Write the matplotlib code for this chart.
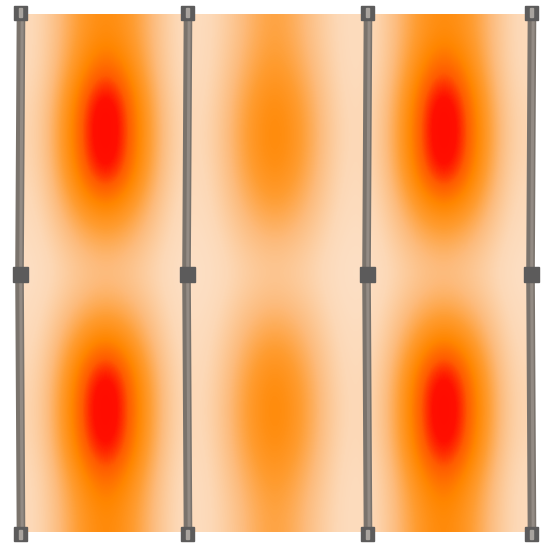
"""
Folding-screen heat map: three panels, each with two hot spots,
smoothed with bicubic interpolation and framed by grey posts.
"""

import matplotlib
matplotlib.use("Agg")
import matplotlib.pyplot as plt
from matplotlib.colors import LinearSegmentedColormap
from matplotlib.patches import Rectangle

# intensity grid, 15 rows (top -> bottom) x 15 columns (left -> right)
heat = [
    [0.12, 0.45, 0.62, 0.45, 0.12, 0.10, 0.30, 0.50, 0.30, 0.10, 0.12, 0.45, 0.62, 0.47, 0.12],
    [0.12, 0.50, 0.78, 0.50, 0.12, 0.10, 0.35, 0.55, 0.35, 0.10, 0.12, 0.50, 0.80, 0.52, 0.12],
    [0.14, 0.62, 1.00, 0.60, 0.14, 0.11, 0.42, 0.63, 0.42, 0.11, 0.14, 0.60, 1.00, 0.62, 0.14],
    [0.15, 0.67, 1.00, 0.64, 0.15, 0.12, 0.45, 0.66, 0.45, 0.12, 0.15, 0.64, 1.00, 0.67, 0.15],
    [0.14, 0.62, 0.97, 0.60, 0.14, 0.11, 0.42, 0.63, 0.42, 0.11, 0.14, 0.60, 0.97, 0.62, 0.14],
    [0.12, 0.48, 0.70, 0.46, 0.12, 0.10, 0.34, 0.52, 0.34, 0.10, 0.12, 0.46, 0.70, 0.48, 0.12],
    [0.10, 0.32, 0.46, 0.32, 0.10, 0.08, 0.25, 0.36, 0.25, 0.08, 0.10, 0.32, 0.46, 0.32, 0.10],
    [0.08, 0.22, 0.30, 0.22, 0.08, 0.07, 0.18, 0.26, 0.18, 0.07, 0.08, 0.22, 0.30, 0.22, 0.08],
    [0.10, 0.32, 0.46, 0.32, 0.10, 0.08, 0.25, 0.36, 0.25, 0.08, 0.10, 0.32, 0.46, 0.32, 0.10],
    [0.12, 0.48, 0.72, 0.46, 0.12, 0.10, 0.34, 0.52, 0.34, 0.10, 0.12, 0.46, 0.72, 0.48, 0.12],
    [0.14, 0.62, 0.98, 0.60, 0.14, 0.11, 0.42, 0.63, 0.42, 0.11, 0.14, 0.60, 0.98, 0.62, 0.14],
    [0.15, 0.67, 1.00, 0.64, 0.15, 0.12, 0.45, 0.66, 0.45, 0.12, 0.15, 0.64, 1.00, 0.67, 0.15],
    [0.14, 0.62, 0.97, 0.60, 0.14, 0.11, 0.42, 0.63, 0.42, 0.11, 0.14, 0.60, 0.97, 0.62, 0.14],
    [0.12, 0.50, 0.76, 0.50, 0.12, 0.10, 0.35, 0.55, 0.35, 0.10, 0.12, 0.50, 0.76, 0.50, 0.12],
    [0.12, 0.45, 0.65, 0.45, 0.12, 0.10, 0.30, 0.50, 0.30, 0.10, 0.12, 0.45, 0.65, 0.45, 0.12],
]

# post x positions (pixels) and joint heights
post_x = [20, 187, 367, 531]
post_top, post_mid, post_bottom = 13, 274, 534

cmap = LinearSegmentedColormap.from_list("screen", [
    (0.00, "#fde8d6"),
    (0.15, "#fcd8b6"),
    (0.32, "#fdbb7c"),
    (0.48, "#ff9c30"),
    (0.62, "#ff8600"),
    (0.74, "#ff5c00"),
    (0.84, "#ff1000"),
    (1.00, "#ff0000"),
])

fig = plt.figure(figsize=(5.42, 5.44), dpi=100)
ax = fig.add_axes([0, 0, 1, 1])
ax.set_xlim(0, 542)
ax.set_ylim(544, 0)
ax.axis("off")

ax.imshow(heat, cmap=cmap, vmin=0, vmax=1, interpolation="bicubic",
          extent=(22, 528, 532, 14), aspect="auto", zorder=1)

for x in post_x:
    # slightly bowed post
    xs = [x + 1, x - 0.5, x + 1]
    ys = [post_top, post_mid, post_bottom]
    ax.plot(xs, ys, color="#7a736c", lw=6.2, solid_capstyle="butt", zorder=2)
    ax.plot([v + 1.2 for v in xs], ys, color="#938b84", lw=2.2, zorder=3)
    # joints
    ax.add_patch(Rectangle((x - 7.5, post_mid - 7.5), 15, 15, color="#5c5b5b", zorder=4))
    ax.add_patch(Rectangle((x - 6.5, post_top - 7), 13, 14, color="#5c5b5b", zorder=4))
    ax.add_patch(Rectangle((x - 6.5, post_bottom - 7), 13, 14, color="#5c5b5b", zorder=4))
    ax.add_patch(Rectangle((x - 1, post_top - 5), 2.5, 9, color="#a8a39e", zorder=5))
    ax.add_patch(Rectangle((x - 1, post_bottom - 4), 2.5, 9, color="#a8a39e", zorder=5))

fig.savefig("out.png", dpi=100)
